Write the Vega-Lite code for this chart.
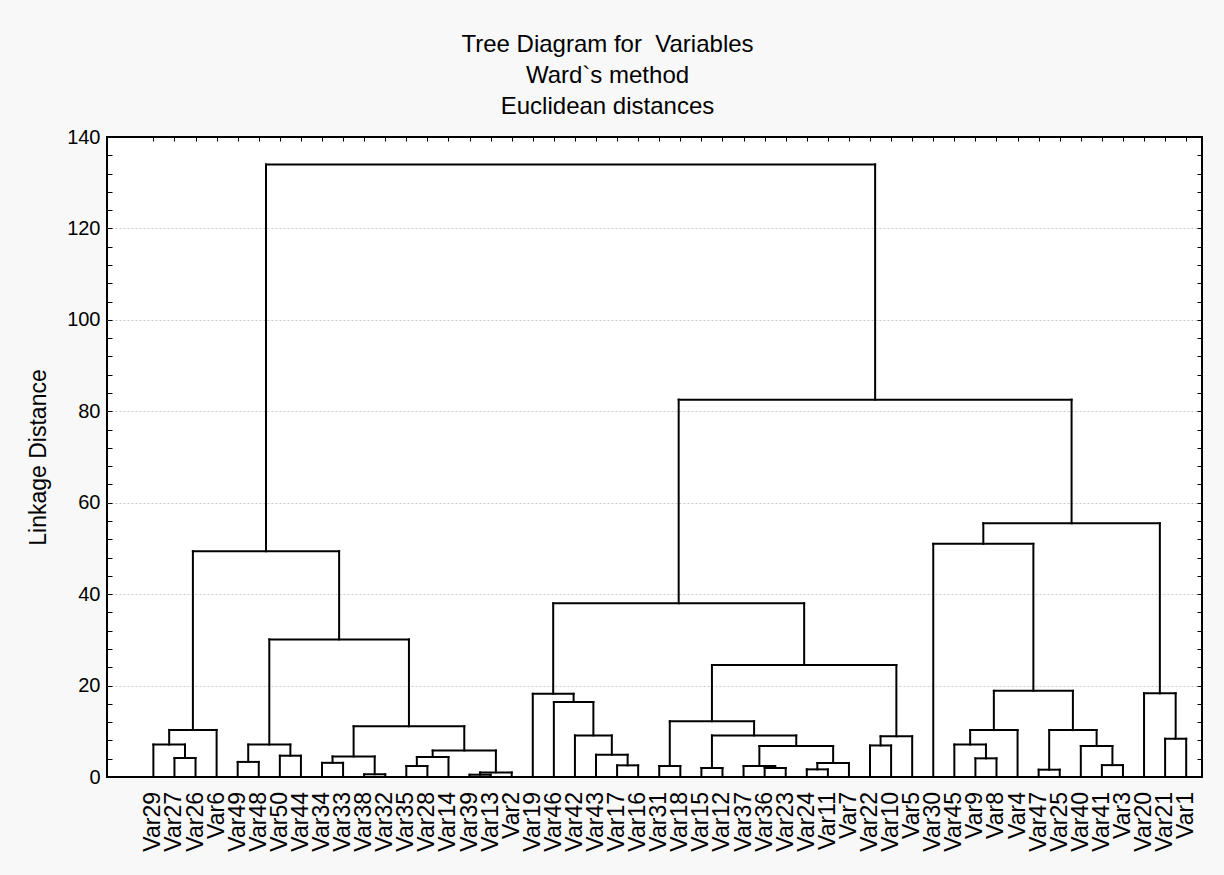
{
  "$schema": "https://vega.github.io/schema/vega-lite/v6.json",
  "width": 1095,
  "height": 640,
  "autosize": {"type": "none"},
  "padding": {"left": 107, "top": 137, "right": 22, "bottom": 98},
  "background": "#f8f8f8",
  "title": {
    "text": ["Tree Diagram for\u00a0 Variables", "Ward`s method", "Euclidean distances"],
    "fontSize": 24,
    "font": "Liberation Sans",
    "fontWeight": "normal",
    "color": "black",
    "lineHeight": 31,
    "anchor": "middle",
    "dx": -47,
    "dy": 32,
    "offset": 21,
    "baseline": "alphabetic"
  },
  "config": {
    "view": {"stroke": "black", "strokeWidth": 2, "fill": "white"},
    "font": "Liberation Sans"
  },
  "datasets": {
    "merges": [
      {"id": "A1", "xl": 1, "xr": 2, "hl": 0, "hr": 0, "h": 4.15},
      {"id": "A2", "xl": 0, "xr": 1.5, "hl": 0, "hr": 4.15, "h": 7.1},
      {"id": "A3", "xl": 0.75, "xr": 3, "hl": 7.1, "hr": 0, "h": 10.3},
      {"id": "B1", "xl": 4, "xr": 5, "hl": 0, "hr": 0, "h": 3.3},
      {"id": "B2", "xl": 6, "xr": 7, "hl": 0, "hr": 0, "h": 4.66},
      {"id": "B3", "xl": 4.5, "xr": 6.5, "hl": 3.3, "hr": 4.66, "h": 7.1},
      {"id": "C1", "xl": 8, "xr": 9, "hl": 0, "hr": 0, "h": 3.1},
      {"id": "C2", "xl": 10, "xr": 11, "hl": 0, "hr": 0, "h": 0.6},
      {"id": "C3", "xl": 8.5, "xr": 10.5, "hl": 3.1, "hr": 0.6, "h": 4.5},
      {"id": "D1", "xl": 12, "xr": 13, "hl": 0, "hr": 0, "h": 2.4},
      {"id": "D2", "xl": 12.5, "xr": 14, "hl": 2.4, "hr": 0, "h": 4.37},
      {"id": "E1", "xl": 15, "xr": 16, "hl": 0, "hr": 0, "h": 0.5},
      {"id": "E2", "xl": 15.5, "xr": 17, "hl": 0.5, "hr": 0, "h": 1.0},
      {"id": "D3", "xl": 13.25, "xr": 16.25, "hl": 4.37, "hr": 1.0, "h": 5.8},
      {"id": "C4", "xl": 9.5, "xr": 14.75, "hl": 4.5, "hr": 5.8, "h": 11.1},
      {"id": "B4", "xl": 5.5, "xr": 12.125, "hl": 7.1, "hr": 11.1, "h": 30.1},
      {"id": "A4", "xl": 1.875, "xr": 8.8125, "hl": 10.3, "hr": 30.1, "h": 49.4},
      {"id": "F1", "xl": 22, "xr": 23, "hl": 0, "hr": 0, "h": 2.55},
      {"id": "F2", "xl": 21, "xr": 22.5, "hl": 0, "hr": 2.55, "h": 4.87},
      {"id": "F3", "xl": 20, "xr": 21.75, "hl": 0, "hr": 4.87, "h": 9.1},
      {"id": "F4", "xl": 19, "xr": 20.875, "hl": 0, "hr": 9.1, "h": 16.4},
      {"id": "F5", "xl": 18, "xr": 19.9375, "hl": 0, "hr": 16.4, "h": 18.2},
      {"id": "G1", "xl": 24, "xr": 25, "hl": 0, "hr": 0, "h": 2.4},
      {"id": "G2", "xl": 26, "xr": 27, "hl": 0, "hr": 0, "h": 1.97},
      {"id": "G3", "xl": 29, "xr": 30, "hl": 0, "hr": 0, "h": 1.97},
      {"id": "G4", "xl": 28, "xr": 29.5, "hl": 0, "hr": 1.97, "h": 2.4},
      {"id": "G5", "xl": 31, "xr": 32, "hl": 0, "hr": 0, "h": 1.67},
      {"id": "G6", "xl": 31.5, "xr": 33, "hl": 1.67, "hr": 0, "h": 3.06},
      {"id": "G7", "xl": 28.75, "xr": 32.25, "hl": 2.4, "hr": 3.06, "h": 6.77},
      {"id": "G8", "xl": 26.5, "xr": 30.5, "hl": 1.97, "hr": 6.77, "h": 9.1},
      {"id": "G9", "xl": 24.5, "xr": 28.5, "hl": 2.4, "hr": 9.1, "h": 12.2},
      {"id": "H1", "xl": 34, "xr": 35, "hl": 0, "hr": 0, "h": 6.9},
      {"id": "H2", "xl": 34.5, "xr": 36, "hl": 6.9, "hr": 0, "h": 8.9},
      {"id": "G10", "xl": 26.5, "xr": 35.25, "hl": 12.2, "hr": 8.9, "h": 24.5},
      {"id": "F6", "xl": 18.96875, "xr": 30.875, "hl": 18.2, "hr": 24.5, "h": 38.0},
      {"id": "I1", "xl": 39, "xr": 40, "hl": 0, "hr": 0, "h": 4.08},
      {"id": "I2", "xl": 38, "xr": 39.5, "hl": 0, "hr": 4.08, "h": 7.1},
      {"id": "I3", "xl": 38.75, "xr": 41, "hl": 7.1, "hr": 0, "h": 10.26},
      {"id": "J1", "xl": 42, "xr": 43, "hl": 0, "hr": 0, "h": 1.6},
      {"id": "J2", "xl": 45, "xr": 46, "hl": 0, "hr": 0, "h": 2.6},
      {"id": "J3", "xl": 44, "xr": 45.5, "hl": 0, "hr": 2.6, "h": 6.77},
      {"id": "J4", "xl": 42.5, "xr": 44.75, "hl": 1.6, "hr": 6.77, "h": 10.26},
      {"id": "I4", "xl": 39.875, "xr": 43.625, "hl": 10.26, "hr": 10.26, "h": 18.85},
      {"id": "K0", "xl": 37, "xr": 41.75, "hl": 0, "hr": 18.85, "h": 51.0},
      {"id": "K1", "xl": 48, "xr": 49, "hl": 0, "hr": 0, "h": 8.37},
      {"id": "K2", "xl": 47, "xr": 48.5, "hl": 0, "hr": 8.37, "h": 18.3},
      {"id": "K3", "xl": 39.375, "xr": 47.75, "hl": 51.0, "hr": 18.3, "h": 55.5},
      {"id": "L", "xl": 24.921875, "xr": 43.5625, "hl": 38.0, "hr": 55.5, "h": 82.55},
      {"id": "T", "xl": 5.34375, "xr": 34.2421875, "hl": 49.4, "hr": 82.55, "h": 134.0}
    ],
    "leaves": [
      {"name": "Var29", "pos": 0}, {"name": "Var27", "pos": 1}, {"name": "Var26", "pos": 2}, {"name": "Var6", "pos": 3},
      {"name": "Var49", "pos": 4}, {"name": "Var48", "pos": 5}, {"name": "Var50", "pos": 6}, {"name": "Var44", "pos": 7},
      {"name": "Var34", "pos": 8}, {"name": "Var33", "pos": 9}, {"name": "Var38", "pos": 10}, {"name": "Var32", "pos": 11},
      {"name": "Var35", "pos": 12}, {"name": "Var28", "pos": 13}, {"name": "Var14", "pos": 14}, {"name": "Var39", "pos": 15},
      {"name": "Var13", "pos": 16}, {"name": "Var2", "pos": 17}, {"name": "Var19", "pos": 18}, {"name": "Var46", "pos": 19},
      {"name": "Var42", "pos": 20}, {"name": "Var43", "pos": 21}, {"name": "Var17", "pos": 22}, {"name": "Var16", "pos": 23},
      {"name": "Var31", "pos": 24}, {"name": "Var18", "pos": 25}, {"name": "Var15", "pos": 26}, {"name": "Var12", "pos": 27},
      {"name": "Var37", "pos": 28}, {"name": "Var36", "pos": 29}, {"name": "Var23", "pos": 30}, {"name": "Var24", "pos": 31},
      {"name": "Var11", "pos": 32}, {"name": "Var7", "pos": 33}, {"name": "Var22", "pos": 34}, {"name": "Var10", "pos": 35},
      {"name": "Var5", "pos": 36}, {"name": "Var30", "pos": 37}, {"name": "Var45", "pos": 38}, {"name": "Var9", "pos": 39},
      {"name": "Var8", "pos": 40}, {"name": "Var4", "pos": 41}, {"name": "Var47", "pos": 42}, {"name": "Var25", "pos": 43},
      {"name": "Var40", "pos": 44}, {"name": "Var41", "pos": 45}, {"name": "Var3", "pos": 46}, {"name": "Var20", "pos": 47},
      {"name": "Var21", "pos": 48}, {"name": "Var1", "pos": 49}
    ]
  },
  "resolve": {"axis": {"x": "independent", "y": "independent"}},
  "layer": [
    {
      "data": {"name": "merges"},
      "mark": {"type": "rule", "color": "black", "strokeWidth": 2, "strokeCap": "square"},
      "encoding": {
        "x": {"field": "xl", "type": "quantitative", "scale": {"domain": [-2.2, 49.75], "nice": false, "zero": false}, "axis": null},
        "x2": {"field": "xr"},
        "y": {
          "field": "h", "type": "quantitative",
          "scale": {"domain": [0, 140], "nice": false},
          "axis": {
            "orient": "left",
            "values": [0,4,8,12,16,20,24,28,32,36,40,44,48,52,56,60,64,68,72,76,80,84,88,92,96,100,104,108,112,116,120,124,128,132,136,140],
            "labelExpr": "datum.value % 20 === 0 ? datum.label : ''",
            "labelFontSize": 20,
            "labelFont": "Liberation Sans",
            "labelColor": "black",
            "labelPadding": 12,
            "labelOverlap": false,
            "labelFlush": false,
            "labelBound": false,
            "tickSize": -5,
            "tickColor": "black",
            "tickWidth": 1,
            "domain": false,
            "grid": true,
            "gridColor": "#c8c8c8",
            "gridDash": [2, 2],
            "gridWidth": 1,
            "gridOpacity": {"condition": {"test": "datum.value % 20 === 0 && datum.value > 0 && datum.value < 140", "value": 1}, "value": 0},
            "title": "Linkage Distance",
            "titleFont": "Liberation Sans",
            "titleFontSize": 23,
            "titleFontWeight": "normal",
            "titleColor": "black",
            "titleX": -69,
            "titleY": 320,
            "titleAngle": 270,
            "titleAlign": "center",
            "titleBaseline": "middle"
          }
        }
      }
    },
    {
      "data": {"name": "merges"},
      "mark": {"type": "rule", "color": "black", "strokeWidth": 2, "strokeCap": "square"},
      "encoding": {
        "x": {
          "field": "xl", "type": "quantitative",
          "scale": {"domain": [-2.2, 49.75], "nice": false, "zero": false},
          "axis": {
            "orient": "top",
            "values": [0,1,2,3,4,5,6,7,8,9,10,11,12,13,14,15,16,17,18,19,20,21,22,23,24,25,26,27,28,29,30,31,32,33,34,35,36,37,38,39,40,41,42,43,44,45,46,47,48,49],
            "labels": false,
            "tickSize": -4,
            "tickColor": "black",
            "tickWidth": 1,
            "domain": false,
            "grid": false,
            "title": null
          }
        },
        "y": {
          "field": "hl", "type": "quantitative",
          "scale": {"domain": [0, 140], "nice": false},
          "axis": {
            "orient": "right",
            "values": [0,4,8,12,16,20,24,28,32,36,40,44,48,52,56,60,64,68,72,76,80,84,88,92,96,100,104,108,112,116,120,124,128,132,136,140],
            "labels": false,
            "tickSize": -5,
            "tickColor": "black",
            "tickWidth": 1,
            "domain": false,
            "grid": false,
            "title": null
          }
        },
        "y2": {"field": "h"}
      }
    },
    {
      "data": {"name": "merges"},
      "mark": {"type": "rule", "color": "black", "strokeWidth": 2, "strokeCap": "square"},
      "encoding": {
        "x": {"field": "xr", "type": "quantitative", "scale": {"domain": [-2.2, 49.75], "nice": false, "zero": false}, "axis": null},
        "y": {"field": "hr", "type": "quantitative", "scale": {"domain": [0, 140], "nice": false}, "axis": null},
        "y2": {"field": "h"}
      }
    },
    {
      "data": {"name": "leaves"},
      "mark": {"type": "text", "angle": 270, "align": "right", "baseline": "middle", "dx": -15, "fontSize": 23, "font": "Liberation Sans", "color": "black"},
      "encoding": {
        "x": {"field": "pos", "type": "quantitative", "scale": {"domain": [-2.2, 49.75], "nice": false, "zero": false}, "axis": null},
        "y": {"datum": 0, "type": "quantitative", "scale": {"domain": [0, 140], "nice": false}, "axis": null},
        "text": {"field": "name"}
      }
    }
  ]
}
